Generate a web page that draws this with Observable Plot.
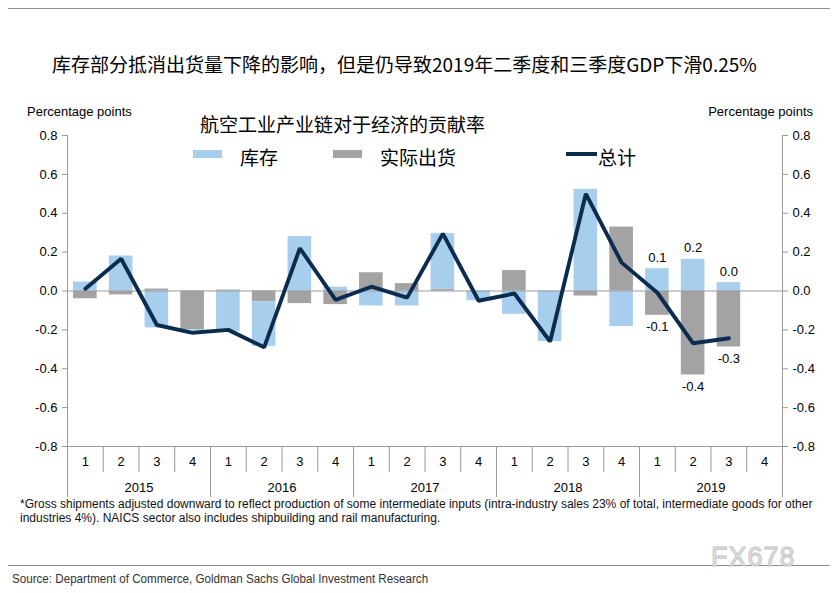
<!DOCTYPE html>
<html>
<head>
<meta charset="utf-8">
<script src="https://cdn.jsdelivr.net/npm/d3@7"></script>
<script src="https://cdn.jsdelivr.net/npm/@observablehq/plot@0.6"></script>
<style>
  html, body { margin: 0; padding: 0; background: #fff; }
  #wrap { position: relative; width: 839px; height: 593px; overflow: hidden; background: #fff; }
  #wrap svg { position: absolute; left: 0; top: 0; }
  .abs { position: absolute; white-space: nowrap; }
  .cjk { font-family: "Noto Sans CJK SC", sans-serif; color: #000; }
  .lat { font-family: "Liberation Sans", Arial, sans-serif; color: #000; }
  .narrow { font-family: "Liberation Sans Narrow", "Liberation Sans", Arial, sans-serif; }
</style>
</head>
<body>
<div id="wrap">
  <div class="abs" style="left:8px; top:8px; width:822px; height:1px; background:#8c8c8c"></div>
  <div class="abs cjk" id="title" style="left:52px; top:51px; font-size:19px; line-height:26px;"></div>
  <div class="abs lat" id="ylabL" style="left:27px; top:104px; font-size:13px; line-height:16px;"></div>
  <div class="abs lat" id="ylabR" style="right:26px; top:104px; font-size:13px; line-height:16px;"></div>
  <div class="abs cjk" id="subtitle" style="left:200px; top:111px; font-size:19px; line-height:26px;"></div>
  <div id="legend"></div>
  <div id="chart"></div>
  <div class="abs narrow" id="note" style="left:20px; top:497px; font-size:12px; line-height:14px; color:#111;"></div>
  <div class="abs" style="left:8px; top:565px; width:822px; height:1px; background:#8c8c8c"></div>
  <div class="abs lat" style="left:711px; top:542px; font-size:27px; line-height:30px; color:#e4e4e4; letter-spacing:1px; -webkit-text-stroke:1px #c4c4c4;">FX678</div>
  <div class="abs narrow" id="source" style="left:12px; top:571px; font-size:12.5px; line-height:16px; color:#333; transform:scaleX(0.93); transform-origin:0 0;"></div>
</div>
<script>
// ---------- data ----------
const years = ["2015", "2016", "2017", "2018", "2019"];
const quarterLabels = ["1", "2", "3", "4"];
// 库存 (inventory) contribution, percentage points, by quarter 2015Q1..2019Q4
const inventory = [0.046, 0.18, -0.19, -0.005, -0.21, -0.23, 0.28, 0.02, -0.077, -0.077, 0.285, -0.05, -0.12, -0.26, 0.523, -0.183, 0.115, 0.163, 0.043, null];
// 实际出货 (actual shipments) contribution
const shipments = [-0.04, -0.02, 0.01, -0.20, 0.005, -0.055, -0.065, -0.07, 0.094, 0.038, 0.01, 0.0, 0.105, 0.0, -0.026, 0.329, -0.125, -0.432, -0.288, null];
// 总计 (total)
const total = [0.012, 0.166, -0.175, -0.215, -0.20, -0.29, 0.22, -0.046, 0.022, -0.034, 0.295, -0.05, -0.013, -0.26, 0.50, 0.146, -0.009, -0.269, -0.243, null];
const labelYear = "2019";
const yTicks = [-0.8, -0.6, -0.4, -0.2, 0, 0.2, 0.4, 0.6, 0.8];
const seriesNames = ["实际出货", "库存"]; // stack order: shipments nearest zero
const legendNames = ["库存", "实际出货", "总计"];
const titleText = "库存部分抵消出货量下降的影响，但是仍导致2019年二季度和三季度GDP下滑0.25%";
const subtitleText = "航空工业产业链对于经济的贡献率";
const yAxisLabel = "Percentage points";
const noteText = "*Gross shipments adjusted downward to reflect production of some intermediate inputs (intra-industry sales 23% of total, intermediate goods for other<br>industries 4%). NAICS sector also includes shipbuilding and rail manufacturing.";
const sourceText = "Source: Department of Commerce, Goldman Sachs Global Investment Research";

const colors = {"库存": "#a8ceee", "实际出货": "#a3a3a3", "总计": "#0c2c4f"};

// ---------- derived tables ----------
const quarters = [];
years.forEach(y => quarterLabels.forEach(q => quarters.push({year: y, q})));
const n = quarters.length;
const half = 0.33;

const bars = [];
quarters.forEach((qq, i) => {
  let pos = 0, neg = 0;
  const vals = {"实际出货": shipments[i], "库存": inventory[i]};
  seriesNames.forEach(s => {
    const v = vals[s];
    if (v == null) return;
    let y1, y2;
    if (v >= 0) { y1 = pos; y2 = pos + v; pos = y2; }
    else { y1 = neg; y2 = neg + v; neg = y2; }
    bars.push({i, x1: i - half, x2: i + half, y1, y2, v, series: s, year: qq.year});
  });
});
const lineRows = quarters.map((qq, i) => ({i, total: total[i]})).filter(d => d.total != null);
const labelRows = bars.filter(d => d.year === labelYear);
const fmt = v => (Math.abs(v) < 0.05 ? Math.abs(v) : v).toFixed(1);

const idx = d3.range(n);
const boundaries = d3.range(-1, n).map(i => i + 0.5);
const yearBoundaries = d3.range(0, years.length + 1).map(k => k * 4 - 0.5);
const yearCenters = years.map((y, k) => k * 4 + 1.5);

const xDomain = [-0.5, n - 0.5];
const yDomain = [yTicks[0], yTicks[yTicks.length - 1]];

// ---------- chart ----------
const chart = Plot.plot({
  width: 839,
  height: 593,
  marginLeft: 67,
  marginRight: 57,
  marginTop: 135,
  marginBottom: 147,
  style: {fontFamily: "'Liberation Sans', Arial, sans-serif", fontSize: "13px", color: "#000", background: "transparent", overflow: "visible"},
  x: {type: "linear", domain: xDomain},
  y: {domain: yDomain},
  marks: [
    Plot.rectY(bars, {x1: "x1", x2: "x2", y1: "y1", y2: "y2", fill: d => colors[d.series]}),
    Plot.ruleY([0], {stroke: "#9a9a9a", strokeWidth: 1}),
    Plot.ruleY([yDomain[0]], {stroke: "#9a9a9a", strokeWidth: 1}),
    Plot.ruleX(xDomain, {stroke: "#9a9a9a", strokeWidth: 1}),
    Plot.line(lineRows, {x: "i", y: "total", stroke: colors["总计"], strokeWidth: 3.9, strokeLinejoin: "miter"}),
    Plot.text(labelRows.filter(d => d.v >= 0), {x: "i", y: "y2", text: d => fmt(d.v), dy: -11, fontSize: 13}),
    Plot.text(labelRows.filter(d => d.v < 0), {x: "i", y: "y2", text: d => fmt(d.v), dy: 12, fontSize: 13}),
    Plot.axisY(yTicks, {anchor: "left", tickSize: 5, tickPadding: 5, tickFormat: d => d.toFixed(1), stroke: "#9a9a9a", fill: "#000", label: null}),
    Plot.axisY(yTicks, {anchor: "right", tickSize: 5, tickPadding: 5, tickFormat: d => d.toFixed(1), stroke: "#9a9a9a", fill: "#000", label: null}),
    Plot.axisX(boundaries, {anchor: "bottom", tickSize: 26, tickFormat: () => "", stroke: "#9a9a9a", label: null}),
    Plot.axisX(yearBoundaries, {anchor: "bottom", tickSize: 51, tickFormat: () => "", stroke: "#9a9a9a", label: null}),
    Plot.axisX(idx, {anchor: "bottom", tickSize: 0, tickPadding: 10, tickFormat: i => quarters[i].q, label: null, fontSize: 13}),
    Plot.axisX(yearCenters, {anchor: "bottom", tickSize: 0, tickPadding: 36, tickFormat: (c, k) => years[k], label: null, fontSize: 13})
  ]
});
document.getElementById("chart").appendChild(chart);

// ---------- texts ----------
document.getElementById("title").textContent = titleText;
document.getElementById("subtitle").textContent = subtitleText;
document.getElementById("ylabL").textContent = yAxisLabel;
document.getElementById("ylabR").textContent = yAxisLabel;
document.getElementById("note").innerHTML = noteText;
document.getElementById("source").textContent = sourceText;

// legend
const legend = document.getElementById("legend");
const legendPos = [{sx: 193, tx: 240, kind: "rect"}, {sx: 333, tx: 380, kind: "rect"}, {sx: 566, tx: 598, kind: "line"}];
legendNames.forEach((name, k) => {
  const p = legendPos[k];
  const sw = document.createElement("div");
  sw.className = "abs";
  if (p.kind === "rect") {
    sw.style.cssText = `left:${p.sx}px; top:150px; width:29px; height:8px; background:${colors[name]}`;
  } else {
    sw.style.cssText = `left:${p.sx}px; top:152px; width:31px; height:4px; background:${colors[name]}`;
  }
  legend.appendChild(sw);
  const t = document.createElement("div");
  t.className = "abs cjk";
  t.style.cssText = `left:${p.tx}px; top:144px; font-size:19px; line-height:26px;`;
  t.textContent = name;
  legend.appendChild(t);
});
</script>
</body>
</html>
